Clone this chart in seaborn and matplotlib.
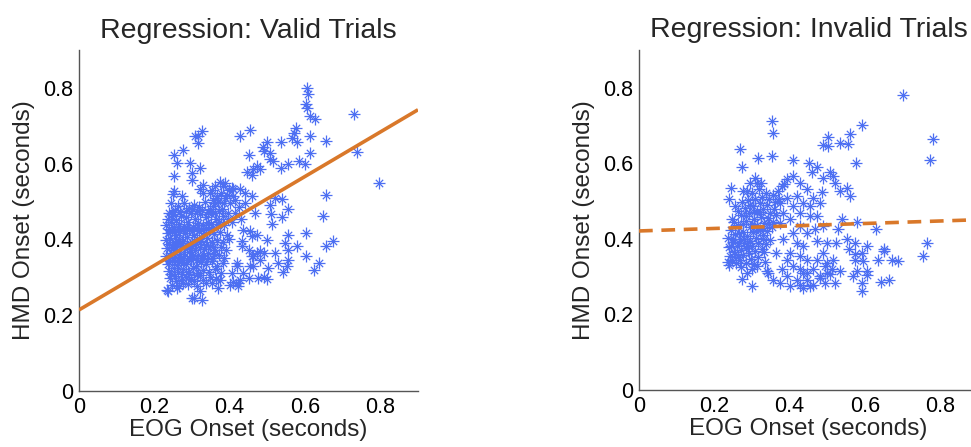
"""Scatter of EOG vs HMD onset with linear fits, valid vs invalid trials."""

import matplotlib
matplotlib.use("Agg")

import matplotlib.pyplot as plt
import numpy as np
import pandas as pd
import seaborn as sns

# (EOG onset, HMD onset) in seconds
valid_trials = [
    (0.606, 0.800), (0.609, 0.783), (0.603, 0.757), (0.606, 0.748), (0.613, 0.726), (0.627, 0.717),
    (0.729, 0.732), (0.739, 0.630), (0.797, 0.549),
    (0.428, 0.673), (0.454, 0.689), (0.452, 0.624),
    (0.576, 0.695), (0.571, 0.682), (0.565, 0.668), (0.580, 0.657), (0.612, 0.673), (0.656, 0.661),
    (0.536, 0.658), (0.498, 0.657), (0.488, 0.644), (0.507, 0.629), (0.492, 0.633),
    (0.612, 0.627), (0.600, 0.600), (0.585, 0.608), (0.556, 0.598), (0.537, 0.589), (0.516, 0.608), (0.507, 0.611),
    (0.472, 0.595), (0.463, 0.586), (0.481, 0.585), (0.445, 0.578), (0.459, 0.571),
    (0.656, 0.517), (0.649, 0.461), (0.603, 0.417), (0.675, 0.397), (0.656, 0.382), (0.603, 0.357),
    (0.638, 0.339), (0.625, 0.320),
    (0.556, 0.413), (0.547, 0.391), (0.578, 0.382), (0.556, 0.373),
    (0.521, 0.364), (0.529, 0.339), (0.556, 0.347), (0.552, 0.329), (0.541, 0.313),
    (0.556, 0.481), (0.538, 0.458), (0.509, 0.466), (0.512, 0.442),
    (0.538, 0.507), (0.521, 0.510), (0.507, 0.492),
    (0.467, 0.470), (0.454, 0.421), (0.436, 0.426), (0.459, 0.408),
    (0.503, 0.325), (0.498, 0.296), (0.476, 0.298), (0.463, 0.329), (0.490, 0.364), (0.481, 0.369),
    (0.450, 0.373), (0.432, 0.395), (0.459, 0.355), (0.472, 0.364),
    (0.428, 0.294), (0.436, 0.311), (0.419, 0.329), (0.410, 0.289), (0.423, 0.276),
    (0.410, 0.532), (0.428, 0.532), (0.441, 0.523), (0.459, 0.514),
    (0.326, 0.686), (0.317, 0.673), (0.317, 0.655), (0.308, 0.673),
    (0.251, 0.624), (0.277, 0.636), (0.259, 0.602), (0.295, 0.602), (0.321, 0.589), (0.299, 0.576),
    (0.251, 0.567), (0.299, 0.558), (0.330, 0.545),
    (0.251, 0.527), (0.273, 0.514), (0.321, 0.532), (0.348, 0.523), (0.383, 0.540), (0.405, 0.536),
    (0.237, 0.263), (0.299, 0.245), (0.326, 0.241), (0.321, 0.263), (0.352, 0.285), (0.375, 0.294),
    (0.401, 0.280), (0.423, 0.285), (0.277, 0.285),
    (0.472, 0.413), (0.481, 0.347), (0.498, 0.399), (0.454, 0.329), (0.490, 0.302),
    (0.250, 0.519), (0.330, 0.523), (0.366, 0.514), (0.246, 0.466),
    (0.233, 0.267), (0.259, 0.272), (0.304, 0.245), (0.370, 0.272), (0.450, 0.298),
    (0.405, 0.311), (0.419, 0.338), (0.463, 0.355), (0.432, 0.382),
    (0.370, 0.500), (0.388, 0.510), (0.400, 0.495), (0.415, 0.505), (0.425, 0.485), (0.395, 0.470),
    (0.380, 0.480), (0.360, 0.495), (0.440, 0.495), (0.415, 0.470), (0.430, 0.455), (0.405, 0.445),
    (0.352, 0.530), (0.362, 0.542), (0.375, 0.552), (0.388, 0.548), (0.398, 0.530), (0.378, 0.522),
    (0.392, 0.518), (0.366, 0.510), (0.355, 0.505), (0.384, 0.495), (0.410, 0.515), (0.360, 0.470),
    (0.395, 0.455), (0.372, 0.445),
    # dense core
    (0.245, 0.495), (0.262, 0.488), (0.278, 0.497), (0.291, 0.482), (0.305, 0.492), (0.318, 0.486),
    (0.334, 0.498), (0.347, 0.481), (0.356, 0.489), (0.372, 0.476),
    (0.240, 0.470), (0.255, 0.478), (0.268, 0.472), (0.283, 0.475), (0.300, 0.480), (0.313, 0.476),
    (0.327, 0.478), (0.342, 0.472),
    (0.236, 0.455), (0.249, 0.468), (0.258, 0.452), (0.271, 0.463), (0.284, 0.458), (0.297, 0.470),
    (0.309, 0.455), (0.322, 0.466), (0.338, 0.459), (0.351, 0.468), (0.363, 0.455), (0.381, 0.462),
    (0.232, 0.437), (0.244, 0.446), (0.253, 0.432), (0.266, 0.441), (0.279, 0.436), (0.290, 0.447),
    (0.302, 0.434), (0.315, 0.443), (0.329, 0.438), (0.343, 0.446), (0.357, 0.433), (0.368, 0.442),
    (0.386, 0.437),
    (0.239, 0.428), (0.252, 0.420), (0.262, 0.428), (0.275, 0.426), (0.287, 0.431), (0.299, 0.422),
    (0.312, 0.430), (0.325, 0.428), (0.337, 0.430), (0.350, 0.440),
    (0.235, 0.418), (0.247, 0.424), (0.257, 0.413), (0.269, 0.421), (0.281, 0.416), (0.293, 0.427),
    (0.306, 0.412), (0.318, 0.422), (0.331, 0.417), (0.346, 0.425), (0.359, 0.414), (0.374, 0.420),
    (0.392, 0.411),
    (0.231, 0.398), (0.242, 0.405), (0.254, 0.394), (0.265, 0.402), (0.276, 0.396), (0.288, 0.407),
    (0.300, 0.392), (0.312, 0.401), (0.325, 0.396), (0.339, 0.404), (0.352, 0.393), (0.366, 0.399),
    (0.381, 0.394), (0.398, 0.402),
    (0.238, 0.388), (0.250, 0.380), (0.261, 0.388), (0.273, 0.390), (0.286, 0.386), (0.298, 0.378),
    (0.310, 0.388), (0.322, 0.392), (0.336, 0.386), (0.355, 0.380),
    (0.234, 0.377), (0.246, 0.385), (0.258, 0.374), (0.270, 0.382), (0.282, 0.376), (0.295, 0.386),
    (0.307, 0.372), (0.320, 0.381), (0.333, 0.375), (0.348, 0.384), (0.362, 0.373), (0.377, 0.379),
    (0.391, 0.371),
    (0.232, 0.357), (0.243, 0.364), (0.255, 0.353), (0.267, 0.361), (0.279, 0.355), (0.291, 0.366),
    (0.303, 0.352), (0.316, 0.360), (0.329, 0.355), (0.343, 0.363), (0.356, 0.351), (0.371, 0.358),
    (0.386, 0.352),
    (0.239, 0.347), (0.251, 0.352), (0.263, 0.346), (0.276, 0.350), (0.288, 0.345), (0.300, 0.356),
    (0.313, 0.347), (0.326, 0.350), (0.340, 0.348), (0.358, 0.362),
    (0.236, 0.336), (0.248, 0.344), (0.260, 0.333), (0.272, 0.341), (0.285, 0.335), (0.298, 0.345),
    (0.310, 0.331), (0.323, 0.340), (0.337, 0.334), (0.352, 0.342), (0.367, 0.331), (0.382, 0.338),
    (0.238, 0.317), (0.251, 0.324), (0.263, 0.313), (0.276, 0.321), (0.289, 0.315), (0.302, 0.325),
    (0.315, 0.311), (0.329, 0.319), (0.344, 0.313), (0.360, 0.321), (0.376, 0.312),
    (0.244, 0.310), (0.258, 0.290), (0.273, 0.308), (0.292, 0.308), (0.306, 0.290), (0.322, 0.305),
    (0.241, 0.297), (0.256, 0.304), (0.270, 0.294), (0.284, 0.302), (0.298, 0.296), (0.313, 0.305),
    (0.330, 0.293), (0.347, 0.300), (0.365, 0.296),
    (0.248, 0.281), (0.265, 0.276), (0.289, 0.283), (0.312, 0.278), (0.338, 0.284),
]

invalid_trials = [
    (0.700, 0.781), (0.352, 0.713), (0.355, 0.679), (0.268, 0.638), (0.273, 0.589), (0.317, 0.614),
    (0.352, 0.620), (0.408, 0.609), (0.452, 0.602), (0.591, 0.702), (0.501, 0.669), (0.489, 0.648),
    (0.501, 0.645), (0.534, 0.655), (0.556, 0.651), (0.560, 0.678), (0.576, 0.601), (0.780, 0.664),
    (0.773, 0.609), (0.764, 0.388), (0.753, 0.356), (0.688, 0.341), (0.671, 0.344), (0.664, 0.291),
    (0.642, 0.285), (0.635, 0.344), (0.629, 0.425), (0.650, 0.374), (0.650, 0.368),
    (0.604, 0.381), (0.591, 0.363), (0.596, 0.341), (0.573, 0.345), (0.578, 0.314), (0.604, 0.314),
    (0.569, 0.301), (0.591, 0.261), (0.591, 0.283), (0.604, 0.305),
    (0.578, 0.445), (0.551, 0.399), (0.573, 0.390), (0.558, 0.372), (0.573, 0.359),
    (0.534, 0.314), (0.512, 0.319), (0.494, 0.328), (0.521, 0.284), (0.494, 0.284), (0.508, 0.306),
    (0.498, 0.310),
    (0.527, 0.425), (0.538, 0.452), (0.523, 0.390),
    (0.534, 0.527), (0.551, 0.536), (0.560, 0.514), (0.520, 0.547), (0.516, 0.567), (0.507, 0.576),
    (0.488, 0.562), (0.472, 0.589), (0.458, 0.576),
    (0.485, 0.523), (0.480, 0.496), (0.463, 0.509), (0.454, 0.487), (0.472, 0.461),
    (0.489, 0.434), (0.467, 0.425), (0.498, 0.390), (0.472, 0.394), (0.489, 0.363), (0.472, 0.345),
    (0.498, 0.336), (0.516, 0.345),
    (0.463, 0.319), (0.481, 0.301), (0.463, 0.279), (0.445, 0.292), (0.436, 0.310), (0.454, 0.275),
    (0.427, 0.279), (0.436, 0.270), (0.481, 0.297),
    # middle cluster
    (0.410, 0.567), (0.392, 0.558), (0.379, 0.540), (0.427, 0.549), (0.445, 0.531), (0.419, 0.514),
    (0.392, 0.509), (0.374, 0.496), (0.436, 0.496), (0.410, 0.487), (0.383, 0.469), (0.427, 0.469),
    (0.454, 0.461), (0.401, 0.452), (0.374, 0.443), (0.427, 0.434), (0.410, 0.416), (0.445, 0.416),
    (0.383, 0.399), (0.419, 0.390), (0.436, 0.381), (0.401, 0.363), (0.365, 0.363), (0.427, 0.354),
    (0.392, 0.345), (0.445, 0.345), (0.410, 0.328), (0.379, 0.319), (0.427, 0.319), (0.445, 0.310),
    (0.392, 0.301), (0.357, 0.292), (0.419, 0.292), (0.401, 0.275), (0.374, 0.283), (0.343, 0.310),
    (0.370, 0.528), (0.385, 0.545), (0.372, 0.505),
    # left cluster
    (0.243, 0.536), (0.240, 0.505), (0.255, 0.487), (0.277, 0.527), (0.308, 0.562), (0.313, 0.549),
    (0.246, 0.452),
    (0.273, 0.294), (0.299, 0.275), (0.286, 0.310), (0.312, 0.328), (0.339, 0.314),
    (0.236, 0.402), (0.238, 0.378), (0.241, 0.356), (0.235, 0.339), (0.244, 0.424), (0.249, 0.391),
    (0.252, 0.366), (0.247, 0.345), (0.256, 0.412), (0.259, 0.382), (0.262, 0.352), (0.258, 0.335),
    (0.264, 0.437), (0.267, 0.401), (0.270, 0.371), (0.268, 0.343), (0.272, 0.462), (0.275, 0.419),
    (0.278, 0.388), (0.276, 0.358), (0.281, 0.482), (0.284, 0.447), (0.287, 0.408), (0.285, 0.376),
    (0.283, 0.336), (0.290, 0.502), (0.293, 0.468), (0.296, 0.431), (0.294, 0.395), (0.292, 0.362),
    (0.299, 0.521), (0.302, 0.487), (0.305, 0.452), (0.303, 0.417), (0.301, 0.381), (0.298, 0.346),
    (0.309, 0.505), (0.312, 0.471), (0.314, 0.438), (0.311, 0.402), (0.308, 0.368), (0.306, 0.333),
    (0.318, 0.531), (0.321, 0.494), (0.323, 0.458), (0.320, 0.423), (0.317, 0.388), (0.315, 0.352),
    (0.327, 0.512), (0.330, 0.478), (0.332, 0.443), (0.329, 0.409), (0.326, 0.374), (0.334, 0.339),
    (0.338, 0.522), (0.341, 0.489), (0.343, 0.456), (0.340, 0.421), (0.337, 0.386), (0.346, 0.505),
    (0.349, 0.468), (0.352, 0.432), (0.348, 0.398), (0.355, 0.515), (0.358, 0.478), (0.356, 0.445),
    (0.362, 0.498), (0.365, 0.462), (0.287, 0.528), (0.296, 0.548), (0.274, 0.497), (0.262, 0.473),
    (0.251, 0.445), (0.323, 0.547), (0.333, 0.365),
    (0.245, 0.380), (0.255, 0.360), (0.265, 0.390), (0.280, 0.400), (0.290, 0.380), (0.300, 0.440),
    (0.310, 0.420), (0.320, 0.470), (0.330, 0.430), (0.295, 0.490), (0.305, 0.470), (0.285, 0.460),
    (0.275, 0.440), (0.265, 0.415), (0.250, 0.400), (0.240, 0.330), (0.270, 0.325), (0.300, 0.320),
    (0.330, 0.400), (0.345, 0.440),
]

# fitted lines (intercept, slope)
valid_fit = (0.214, 0.587)
invalid_fit = (0.421, 0.033)

panel_titles = ["Regression: Valid Trials", "Regression: Invalid Trials"]
axis_ticks = [0, 0.2, 0.4, 0.6, 0.8]
axis_tick_labels = ["0", "0.2", "0.4", "0.6", "0.8"]

POINT_COLOR = "#4d6ff2"
LINE_COLOR = "#d9782a"
XLIM = (0, 0.9)
YLIM = (0, 0.9)

sns.set_style("white")
plt.rcParams["font.family"] = ["Liberation Sans", "DejaVu Sans"]

fig = plt.figure(figsize=(9.71, 4.47), dpi=100)
axes = [
    fig.add_axes([79 / 971, 56 / 447, 339 / 971, 341 / 447]),
    fig.add_axes([639 / 971, 57 / 447, 339 / 971, 340 / 447]),
]

panels = [(valid_trials, valid_fit, "-"), (invalid_trials, invalid_fit, "--")]

for ax, (points, fit, style), title in zip(axes, panels, panel_titles):
    df = pd.DataFrame(points, columns=["eog", "hmd"])
    # MATLAB-like asterisk: long plus + short cross
    sns.scatterplot(data=df, x="eog", y="hmd", ax=ax, marker="+", s=75,
                    color=POINT_COLOR, linewidth=0.9, zorder=2)
    sns.scatterplot(data=df, x="eog", y="hmd", ax=ax, marker="x", s=28,
                    color=POINT_COLOR, linewidth=0.9, zorder=2)

    fit_x = np.array(XLIM)
    fit_y = fit[0] + fit[1] * fit_x
    line = ax.plot(fit_x, fit_y, color=LINE_COLOR, lw=2.6, linestyle=style, zorder=3,
                   solid_capstyle="butt")[0]
    if style == "--":
        line.set_dashes((3.8, 2.4))

    ax.set_xlim(*XLIM)
    ax.set_ylim(*YLIM)
    ax.set_xticks(axis_ticks)
    ax.set_xticklabels(axis_tick_labels)
    ax.set_yticks(axis_ticks)
    ax.set_yticklabels(axis_tick_labels)
    ax.tick_params(direction="in", length=4, width=0.8, labelsize=15.5, pad=4,
                   color="#555555", labelcolor="black")
    for side in ["top", "right"]:
        ax.spines[side].set_visible(False)
    for side in ["left", "bottom"]:
        ax.spines[side].set_color("#555555")
        ax.spines[side].set_linewidth(1.0)
    ax.set_title(title, fontsize=20.5, pad=9)
    ax.set_xlabel("EOG Onset (seconds)", fontsize=17.5, labelpad=1)
    ax.set_ylabel("HMD Onset (seconds)", fontsize=17.5, labelpad=6)

fig.savefig("out.png", dpi=100)
plt.close(fig)
